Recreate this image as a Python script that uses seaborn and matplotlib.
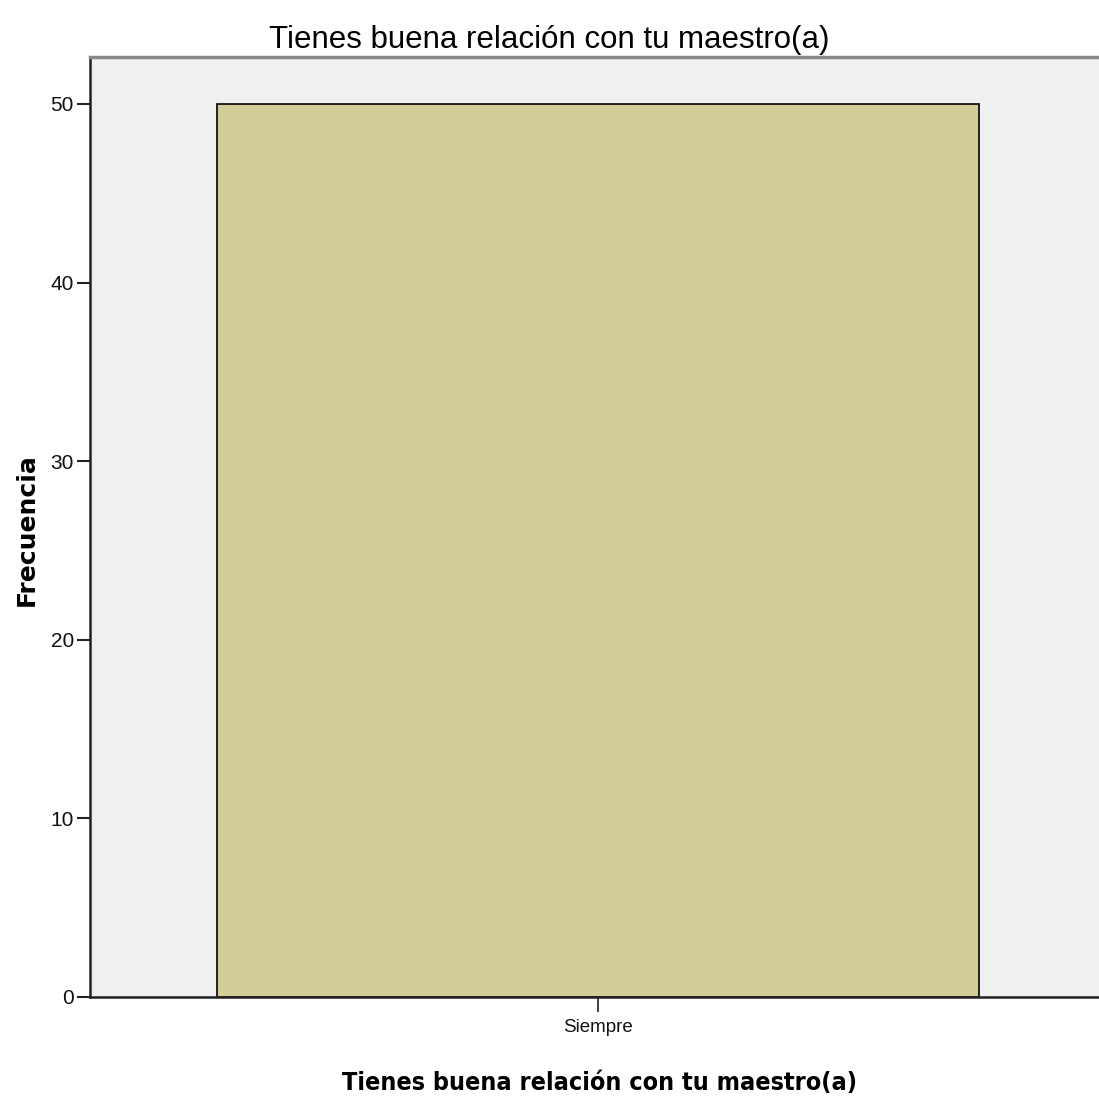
import matplotlib
matplotlib.use('Agg')
import matplotlib.pyplot as plt
import seaborn as sns

# Data
categorias = ['Siempre']
frecuencias = [50]
y_ticks = [0, 10, 20, 30, 40, 50]

titulo = 'Tienes buena relación con tu maestro(a)'

sns.set_style('white')
plt.rcParams['font.family'] = ['Liberation Sans', 'DejaVu Sans']

fig = plt.figure(figsize=(10.99, 11.01), dpi=100)
# axes runs past the right edge, like the cropped original
ax = fig.add_axes([90 / 1099, 1 - 997 / 1101, 1016 / 1099, 940 / 1101])
ax.set_facecolor('#F0F0F0')

sns.barplot(x=categorias, y=frecuencias, color='#D3CD97', edgecolor='black',
            linewidth=1.2, width=0.75, saturation=1, ax=ax)

ax.set_xlim(-0.5, 0.5)
ax.set_ylim(0, 52.63)
ax.set_yticks(y_ticks)
ax.tick_params(left=True, bottom=True)
ax.tick_params(axis='y', length=9.5, width=1.5, labelsize=15, pad=2,
               color='#222222', labelcolor='#111111')
ax.tick_params(axis='x', length=11, width=1.2, labelsize=13.5, pad=5,
               color='#222222', labelcolor='#111111')

for side in ['left', 'bottom']:
    ax.spines[side].set_color('#222222')
    ax.spines[side].set_linewidth(1.8)
ax.spines['top'].set_color('#888888')
ax.spines['top'].set_linewidth(2.5)
ax.spines['right'].set_visible(False)

fig.text(549 / 1099, 1 - 40 / 1101, titulo, ha='center', va='center',
         fontsize=22.5, color='black')
fig.text(599 / 1099, 1 - 1083 / 1101, titulo, ha='center', va='center',
         fontsize=18, fontweight='bold', family='DejaVu Sans', stretch='condensed',
         color='black')
fig.text(27 / 1099, 1 - 530 / 1101, 'Frecuencia', ha='center', va='center',
         rotation=90, fontsize=18, fontweight='bold', family='DejaVu Sans',
         color='black')
ax.set_xlabel('')
ax.set_ylabel('')

fig.savefig('out.png', dpi=100)
